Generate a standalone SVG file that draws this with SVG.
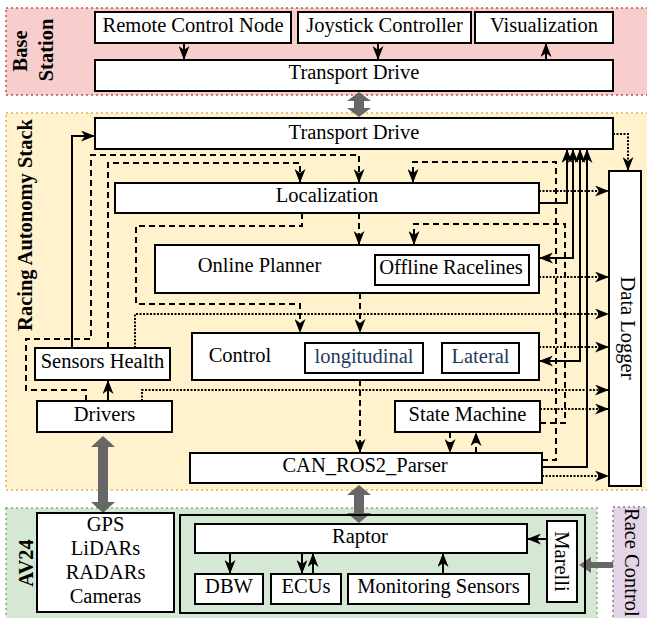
<svg xmlns="http://www.w3.org/2000/svg" width="647" height="618" viewBox="0 0 647 618">
<style>
.box{fill:#fff;stroke:#000;stroke-width:2}
.t{font-family:"Liberation Serif","Times New Roman",serif;font-size:20.5px;fill:#000;text-anchor:middle}
.b{font-weight:bold}
.blue{fill:#1f3a5f}
.c{fill:none;stroke:#000;stroke-width:2}
.dash{stroke-dasharray:6 4}
.dot{stroke-dasharray:2 1.5}
.ar{marker-end:url(#ah)}
.ar2{marker-start:url(#ah);marker-end:url(#ah)}
.g{fill:#676767}
.reg{stroke-width:1.5;stroke-dasharray:2 3}
</style>
<defs>
<marker id="ah" viewBox="0 0 14 11" refX="14" refY="5.5" markerWidth="14" markerHeight="11" markerUnits="userSpaceOnUse" orient="auto-start-reverse">
<path d="M0,0 L14,5.5 L0,11 L4,5.5 Z" fill="#000"/>
</marker>
</defs>

<g id="regions">
<rect x="6" y="8" width="650" height="87" fill="#f8cecc" stroke="#b85450" class="reg"/>
<rect x="6" y="113" width="650" height="377" fill="#fff2cc" stroke="#d6b656" class="reg"/>
<rect x="6" y="508" width="591" height="120" fill="#d5e8d4" stroke="#82b366" class="reg"/>
<rect x="613" y="507" width="45" height="120" fill="#e1d5e7" stroke="#9673a6" class="reg"/>
<text class="t b" transform="translate(27,51) rotate(-90)">Base</text>
<text class="t b" transform="translate(53,50) rotate(-90)">Station</text>
<text class="t b" transform="translate(32,225) rotate(-90)">Racing Autonomy Stack</text>
<text class="t b" transform="translate(33,563) rotate(-90)">AV24</text>
<text class="t" style="text-anchor:start" transform="translate(625,508) rotate(90)">Race Control</text>
</g>

<g id="connectors">
<path class="c ar" d="M184,43 V60"/>
<path class="c ar" d="M378,43 V60"/>
<path class="c ar" d="M546,60 V43"/>
<path class="c ar" d="M72,348 V136 H95"/>
<path class="c ar" d="M108,401 V380"/>
<path class="c ar" d="M539,203 H567 V149"/>
<path class="c ar2" d="M539,258 H573 V149"/>
<path class="c ar2" d="M539,361 H580 V149"/>
<path class="c ar" d="M542,467 H587 V149"/>
<path class="c dash ar" d="M86,401 V390 H26 V339 H91 V155 H359 V183"/>
<path class="c dash ar" d="M108,348 V163 H300 V183"/>
<path class="c dash ar" d="M302,213 V226 H136 V304 H300 V333"/>
<path class="c dash ar" d="M359,213 V245"/>
<path class="c dash ar" d="M542,460 H556 V162 H413 V183"/>
<path class="c dash ar" d="M540,423 H565 V224 H414 V245"/>
<path class="c dash ar" d="M360,293 V333"/>
<path class="c dash ar" d="M360,380 V453"/>
<path class="c dash ar" d="M450,432 V453"/>
<path class="c dash ar" d="M476,453 V432"/>
<path class="c dot ar" d="M613,134 H628 V171"/>
<path class="c dot ar" d="M539,191 H609"/>
<path class="c dot ar" d="M539,277 H609"/>
<path class="c dot ar" d="M135,348 V314 H609"/>
<path class="c dot ar" d="M539,347 H609"/>
<path class="c dot ar" d="M142,401 V390 H609"/>
<path class="c dot ar" d="M540,409 H609"/>
<path class="c dot ar" d="M542,476 H609"/>
<path class="c ar" d="M230,553 V574"/>
<path class="c ar" d="M302,553 V574"/>
<path class="c ar" d="M313,574 V553"/>
<path class="c ar" d="M443,574 V553"/>
<path class="c ar" d="M547,539 H527"/>
<polygon class="g" points="359,92 371,101 364,101 364,108 371,108 359,117 347,108 354,108 354,101 347,101"/>
<polygon class="g" points="103,436 115,447 108,447 108,502 115,502 103,513 91,502 98,502 98,447 91,447"/>
<polygon class="g" points="359,485 371,495 364,495 364,513 371,513 359,523 347,513 354,513 354,495 347,495"/>
<polygon class="g" points="579,565 591,557 591,562 613,562 613,568 591,568 591,573"/>
</g>

<g id="remote-control-node"><rect class="box" x="95" y="12" width="196" height="31"/><text class="t" x="193" y="32">Remote Control Node</text></g>
<g id="joystick-controller"><rect class="box" x="298" y="12" width="173" height="31"/><text class="t" x="384.5" y="32">Joystick Controller</text></g>
<g id="visualization"><rect class="box" x="475" y="12" width="138" height="31"/><text class="t" x="544" y="32">Visualization</text></g>
<g id="transport-drive-base"><rect class="box" x="95" y="60" width="518" height="31"/><text class="t" x="354" y="79">Transport Drive</text></g>

<g id="transport-drive-stack"><rect class="box" x="95" y="118" width="518" height="31"/><text class="t" x="354" y="139">Transport Drive</text></g>
<g id="data-logger"><rect class="box" x="609" y="171" width="32" height="315"/><text class="t" transform="translate(621,328) rotate(90)">Data Logger</text></g>
<g id="localization"><rect class="box" x="115" y="183" width="424" height="30"/><text class="t" x="327" y="202">Localization</text></g>
<g id="online-planner"><rect class="box" x="155" y="245" width="384" height="48"/><text class="t" x="259.5" y="272">Online Planner</text></g>
<g id="offline-racelines"><rect class="box" x="375" y="255" width="154" height="30"/><text class="t" x="451" y="274">Offline Racelines</text></g>
<g id="control"><rect class="box" x="192" y="333" width="347" height="47"/><text class="t" x="240" y="362">Control</text></g>
<g id="longitudinal"><rect class="box" x="305" y="343" width="118" height="30"/><text class="t blue" x="364" y="363">longitudinal</text></g>
<g id="lateral"><rect class="box" x="442" y="343" width="77" height="30"/><text class="t blue" x="480.5" y="363">Lateral</text></g>
<g id="sensors-health"><rect class="box" x="35" y="348" width="135" height="32"/><text class="t" x="102.5" y="368">Sensors Health</text></g>
<g id="drivers"><rect class="box" x="37" y="401" width="135" height="31"/><text class="t" x="104.5" y="421">Drivers</text></g>
<g id="state-machine"><rect class="box" x="395" y="401" width="145" height="31"/><text class="t" x="467.5" y="421">State Machine</text></g>
<g id="can-ros2-parser"><rect class="box" x="190" y="453" width="352" height="30"/><text class="t" x="365" y="472">CAN_ROS2_Parser</text></g>

<g id="sensors"><rect class="box" x="37" y="513" width="137" height="99"/>
<text class="t" x="105.5" y="531">GPS</text><text class="t" x="105.5" y="555">LiDARs</text><text class="t" x="105.5" y="579">RADARs</text><text class="t" x="105.5" y="603">Cameras</text></g>
<g id="raptor-group"><rect x="180" y="515" width="405" height="98" fill="none" stroke="#000" stroke-width="2"/></g>
<g id="raptor"><rect class="box" x="195" y="524" width="332" height="29"/><text class="t" x="360" y="543">Raptor</text></g>
<g id="dbw"><rect class="box" x="195" y="574" width="68" height="30"/><text class="t" x="229" y="593">DBW</text></g>
<g id="ecus"><rect class="box" x="271" y="574" width="70" height="30"/><text class="t" x="306" y="593">ECUs</text></g>
<g id="monitoring-sensors"><rect class="box" x="348" y="574" width="181" height="30"/><text class="t" x="438.5" y="593">Monitoring Sensors</text></g>
<g id="marelli"><rect class="box" x="547" y="521" width="30" height="81"/><text class="t" transform="translate(555,561.5) rotate(90)">Marelli</text></g>
</svg>
